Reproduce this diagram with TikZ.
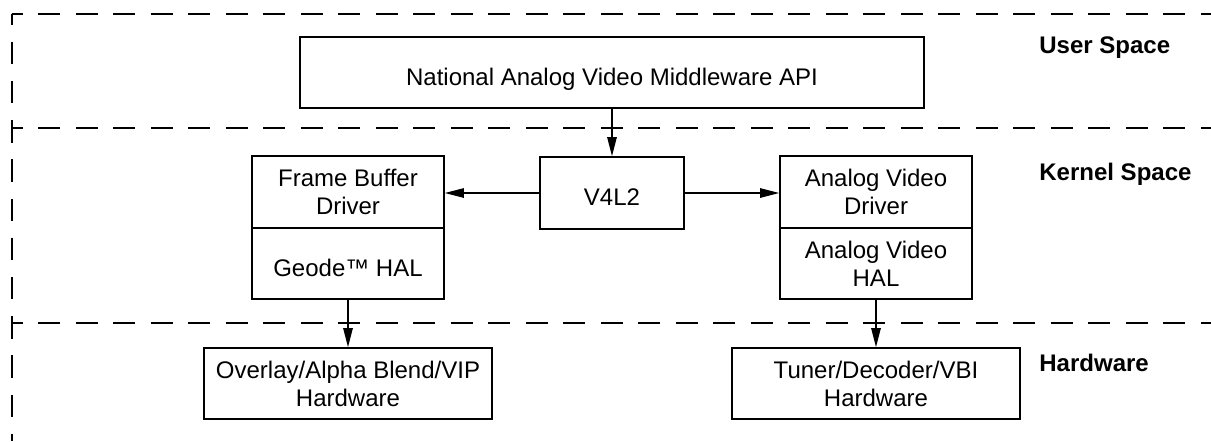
\documentclass[tikz,border=0pt]{standalone}
\usepackage{fontspec}
\setmainfont{Liberation Sans}
\usetikzlibrary{arrows.meta}

\begin{document}
\begin{tikzpicture}[x=0.5pt, y=-0.5pt, font=\fontsize{12}{14}\selectfont,
        block/.style={draw, line width=0.8pt, inner sep=0pt, align=center},
        oneline/.style={text height=15pt, text depth=2.4pt},
        sepline/.style={line width=0.8pt, dash pattern=on 11pt off 7.75pt, dash phase=5.6pt},
        sidesep/.style={line width=0.8pt, dash pattern=on 11.25pt off 8.35pt, dash phase=5.75pt},
        flow/.style={line width=0.7pt, -{Triangle[length=9.5pt, width=4.7pt]}},
        spacename/.style={anchor=base west, inner sep=0pt, font=\fontsize{12}{14}\selectfont\bfseries}]
        % \draw[help lines, step=50] (0, 0) grid (1211, 441);
        \useasboundingbox (0, 0) rectangle (1211, 441);

        \draw[sepline] (12, 14) -- (1211, 14);
        \draw[sepline] (12, 128) -- (1211, 128);
        \draw[sepline] (12, 323) -- (1211, 323);
        \draw[sidesep] (12, 14) -- (12, 441);

        \draw node[spacename] (user) at (1039, 53) {User Space};
        \draw node[spacename] (kernel) at (1039, 180) {Kernel Space};
        \draw node[spacename] (hw) at (1039, 371) {Hardware};

        \draw node[block, oneline, minimum width=312pt, minimum height=35.5pt] (api) at (612, 72.5) {National Analog Video Middleware API};
        \draw node[block, oneline, minimum width=72pt, minimum height=36pt] (v4l2) at (612, 193) {V4L2};

        \draw node[block, minimum width=96pt, minimum height=36pt] (fbdrv) at (348, 192) {Frame Buffer\\Driver};
        \draw node[block, oneline, minimum width=96pt, minimum height=35.5pt] (fbhal) at (348, 263.5) {Geode™ HAL};
        \draw node[block, minimum width=96pt, minimum height=36pt] (avdrv) at (876, 192) {Analog Video\\Driver};
        \draw node[block, minimum width=96pt, minimum height=35.5pt] (avhal) at (876, 263.5) {Analog Video\\HAL};

        \draw node[block, minimum width=144pt, minimum height=35.5pt] (overlay) at (348, 383.5) {Overlay/Alpha Blend/VIP\\Hardware};
        \draw node[block, minimum width=144pt, minimum height=35.5pt] (tuner) at (876, 383.5) {Tuner/Decoder/VBI\\Hardware};

        \draw[flow] (api) -- (v4l2);
        \draw[flow] (v4l2.west) -- (v4l2.west -| fbdrv.east);
        \draw[flow] (v4l2.east) -- (v4l2.east -| avdrv.west);
        \draw[flow] (fbhal) -- (overlay);
        \draw[flow] (avhal) -- (tuner);

    \end{tikzpicture}
\end{document}
